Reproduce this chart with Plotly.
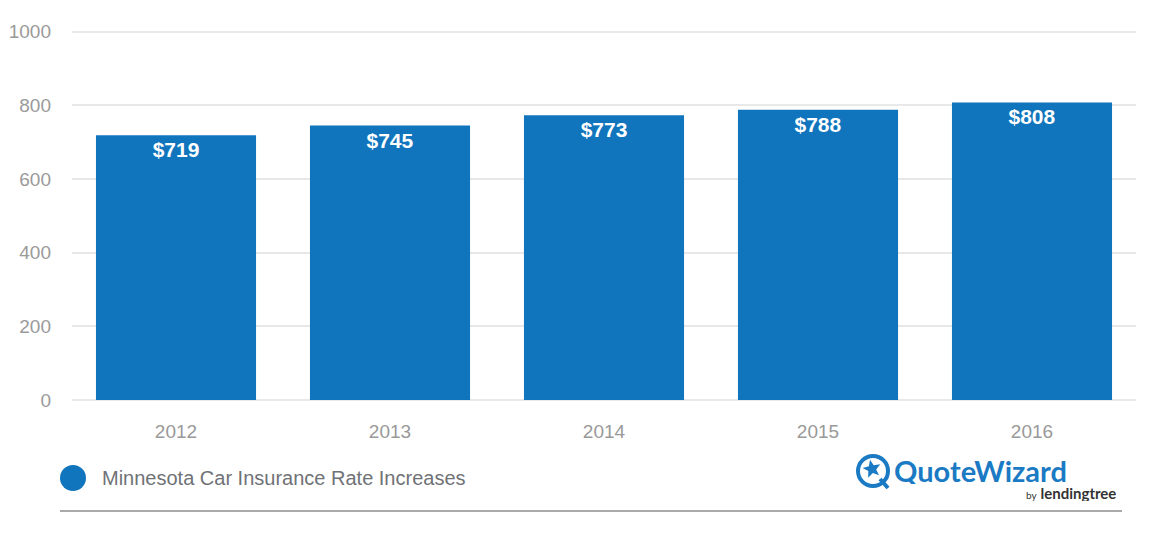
import math
import plotly.graph_objects as go

years = ["2012", "2013", "2014", "2015", "2016"]
rates = [719, 745, 773, 788, 808]
series_name = "Minnesota Car Insurance Rate Increases"
y_ticks = [0, 200, 400, 600, 800, 1000]

BLUE = "#1075bd"
FONT = "Liberation Sans, Arial, Helvetica, sans-serif"

# pixel -> paper helpers (plot area: x 72..1136, y 29..400)
L, R, T, B = 72, 1136, 29, 400
Y_TOP = (B - T) / 0.3683  # value at plot top so 1000 sits just below it
def px(x):
    return (x - L) / (R - L)
def py(y):
    return (B - y) / (B - T)

fig = go.Figure()
fig.add_trace(go.Bar(
    x=years, y=rates, name=series_name,
    marker=dict(color=BLUE, line=dict(width=0)),
    texttemplate="$%{y}", textposition="inside", insidetextanchor="end",
    textfont=dict(family=FONT, size=21, color="white", weight="bold"),
    textangle=0, cliponaxis=False, showlegend=False,
))

fig.update_layout(
    width=1150, height=540,
    margin=dict(l=L, r=1150 - R, t=T, b=540 - B, autoexpand=False),
    plot_bgcolor="white", paper_bgcolor="white",
    bargap=0.252,
    font=dict(family=FONT),
    xaxis=dict(showgrid=False, showline=False, ticks="", range=[-0.486, 4.486],
               automargin=False,
               tickfont=dict(size=19, color="#999999"), ticklabelstandoff=18),
    yaxis=dict(range=[0, Y_TOP], tickvals=y_ticks, showgrid=True, automargin=False,
               gridcolor="#e8e8e8", gridwidth=1.5, zeroline=True,
               zerolinecolor="#e8e8e8", zerolinewidth=1.5,
               tickfont=dict(size=19, color="#9a9a9a"), ticklabelstandoff=20),
)

# legend (custom)
fig.add_shape(type="circle", xref="paper", yref="paper",
              x0=px(60), x1=px(86), y0=py(491), y1=py(465),
              fillcolor=BLUE, line=dict(width=0))
fig.add_annotation(xref="paper", yref="paper", x=px(100), y=py(478),
                   xanchor="left", yanchor="middle", showarrow=False,
                   text=series_name, font=dict(size=20, color="#6f7276", family=FONT))

# bottom rule
fig.add_shape(type="line", xref="paper", yref="paper",
              x0=px(60), x1=px(1122), y0=py(511), y1=py(511),
              line=dict(color="#aaaaaa", width=2))

# logo (approximation): ring, tail, star
LOGO = "#1a7ac3"
fig.add_shape(type="circle", xref="paper", yref="paper",
              x0=px(858), x1=px(888), y0=py(486), y1=py(456),
              fillcolor="white", line=dict(color=LOGO, width=4))
fig.add_shape(type="line", xref="paper", yref="paper",
              x0=px(880), x1=px(888), y0=py(479), y1=py(488),
              line=dict(color=LOGO, width=4))
cx, cy, ro, ri = 872, 469, 9.5, 4.2
pts = []
for k in range(10):
    ang = math.radians(-90 + 36 * k - 12)
    r = ro if k % 2 == 0 else ri
    pts.append((px(cx + r * math.cos(ang)), py(cy + r * math.sin(ang))))
path = "M " + " L ".join(f"{a},{b}" for a, b in pts) + " Z"
fig.add_shape(type="path", xref="paper", yref="paper", path=path,
              fillcolor=LOGO, line=dict(width=0))
fig.add_annotation(xref="paper", yref="paper", x=px(892), y=py(470),
                   xanchor="left", yanchor="middle", showarrow=False, height=28,
                   text="<b>QuoteWizard</b>", font=dict(size=29, color=LOGO, family="Lato, " + FONT))
fig.add_annotation(xref="paper", yref="paper", x=px(1118), y=py(493),
                   xanchor="right", yanchor="middle", showarrow=False, height=16,
                   text="<span style='font-size:10px'>by</span> <b>lendingtree</b>",
                   font=dict(size=15, color="#333333", family="Lato, " + FONT))

fig.write_html("out.html")
